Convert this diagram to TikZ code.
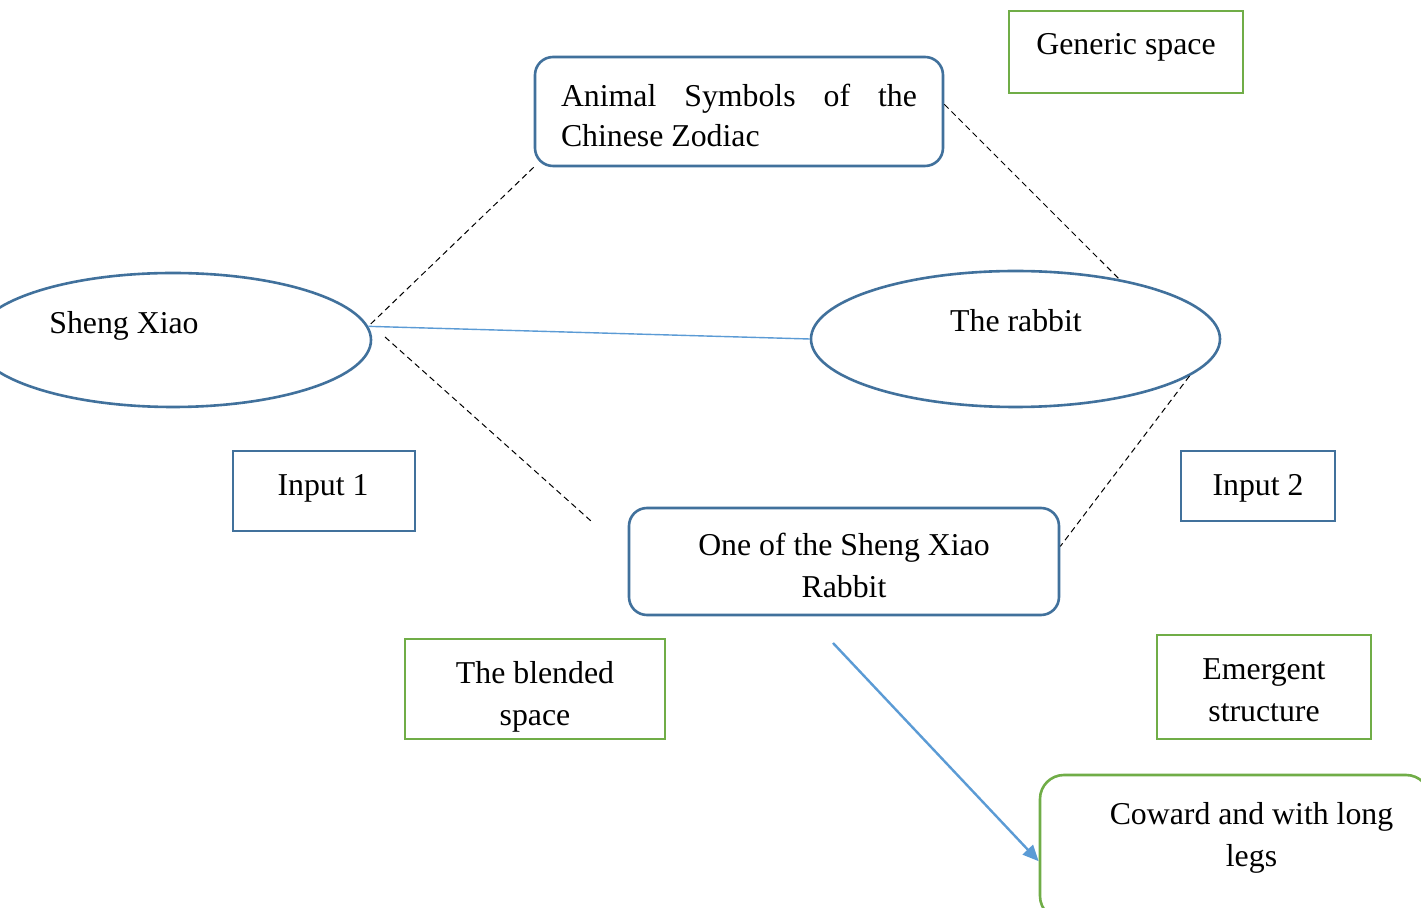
\documentclass[tikz,border=0pt]{standalone}
\usepackage{fontspec}
\setmainfont{Liberation Serif}
\usetikzlibrary{shapes.geometric,arrows.meta}
\definecolor{wblue}{HTML}{41719C}
\definecolor{lblue}{HTML}{5B9BD5}
\definecolor{wgreen}{HTML}{70AD47}
\begin{document}
\begin{tikzpicture}[x=0.5pt,y=-0.5pt,
  txt/.style={font=\fontsize{15.9}{21}\selectfont, inner sep=0pt},
  bbox/.style={draw=wblue,line width=1.3pt,inner sep=0pt},
  gbox/.style={draw=wgreen,line width=1.3pt,inner sep=0pt},
  ell/.style={ellipse,draw=wblue,line width=1.3pt,inner sep=0pt},
  dline/.style={black,line width=0.5pt,dash pattern=on 3pt off 2pt}]
\useasboundingbox[fill=white] (0,0) rectangle (1421,908);

% generic space
\node[gbox,minimum width=117pt,minimum height=41pt] (gen) at (1126,52) {};
\node[txt,anchor=base] (tgen) at (1126,55) {Generic space};

% animal symbols box
\node[bbox,rounded corners=9pt,minimum width=204pt,minimum height=54.5pt] (anim) at (739,111.5) {};
\node[txt,font=\fontsize{15.9}{20}\selectfont,text width=178pt,align=justify] (tanim) at (739,115) {Animal Symbols of the\linebreak Chinese Zodiac};

% ellipses
\node[ell,minimum width=198pt,minimum height=67pt] (sx) at (173,340) {};
\node[txt,anchor=base] (tsx) at (124,334) {Sheng Xiao};
\node[ell,minimum width=204.5pt,minimum height=68pt] (rab) at (1015.5,339) {};
\node[txt,anchor=base] (trab) at (1016,332) {The rabbit};

% inputs
\node[bbox,minimum width=91pt,minimum height=40pt] (in1) at (324,491) {};
\node[txt,anchor=base] (tin1) at (323,496) {Input 1};
\node[bbox,minimum width=77pt,minimum height=35pt] (in2) at (1258,486) {};
\node[txt,anchor=base] (tin2) at (1258,496) {Input 2};

% blend box
\node[bbox,rounded corners=9pt,minimum width=215pt,minimum height=53.5pt] (one) at (844,561.5) {};
\node[txt,align=center] (tone) at (844,565) {One of the Sheng Xiao\\Rabbit};

% labels
\node[gbox,minimum width=130pt,minimum height=50pt] (blend) at (535,689) {};
\node[txt,align=center] (tblend) at (535,697) {The blended\\space};
\node[gbox,minimum width=107pt,minimum height=52pt] (emerg) at (1264,687) {};
\node[txt,align=center] (temerg) at (1264,690) {Emergent\\structure};

% emergent box
\node[gbox,rounded corners=12pt,minimum width=195pt,minimum height=72.5pt] (cow) at (1235,847.5) {};
\node[txt,align=center] (tcow) at (1251.5,838) {Coward and with long\\legs};

% connectors
\draw[dline] (anim.south west) -- (sx.4);
\draw[dline] (anim.2) -- (rab.30);
\coordinate (d3s) at (385,337);
\coordinate (d3e) at (591,521);
\draw[dline] (d3s) -- (d3e);
\draw[dline] (rab.-12) -- (one.4);
\draw[lblue,line width=0.7pt] (sx.4) -- (rab.west);
\coordinate (arS) at (833,643);
\draw[lblue,line width=1.2pt,-{Triangle[length=8pt,width=7pt]}] (arS) -- (cow.184);
\end{tikzpicture}
\end{document}
